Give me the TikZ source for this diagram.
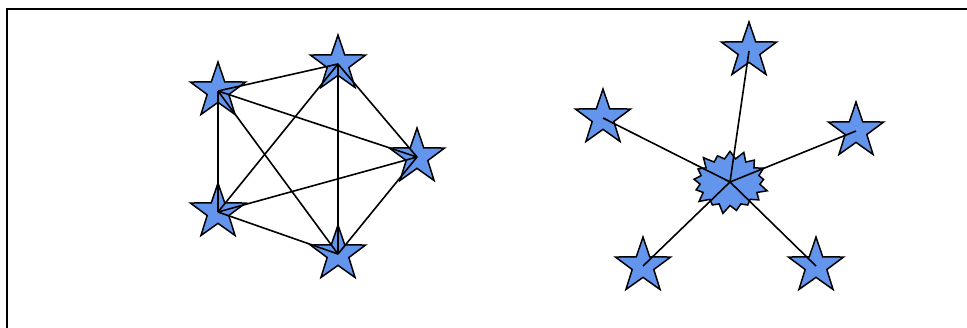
\documentclass[tikz,border=0pt]{standalone}
\usetikzlibrary{shapes.geometric,shapes.symbols}
\definecolor{starblue}{HTML}{6495ED}
\begin{document}
\begin{tikzpicture}[x=1pt,y=-1pt,
  starnode/.style={star,star points=5,star point ratio=2.55,minimum size=58pt,inner sep=0pt,
    draw=black,line width=1.5pt,fill=starblue},
  burst/.style={starburst,starburst points=17,starburst point height=10pt,random starburst=100,
    minimum width=80pt,minimum height=67pt,inner sep=0pt,draw=black,line width=1.5pt,fill=starblue},
  edge/.style={draw=black,line width=1.6pt}]
\useasboundingbox (0,0) rectangle (967,327);
\draw[line width=2pt] (7,9.3) rectangle (990,345);
% left graph
\node[starnode] (A) at (218,91) {};
\node[starnode] (B) at (338,64) {};
\node[starnode] (C) at (417,157) {};
\node[starnode] (D) at (218,212) {};
\node[starnode] (E) at (338,254) {};
\draw[edge] (A.center) -- (B.center);
\draw[edge] (A.center) -- (C.center);
\draw[edge] (A.center) -- (D.center);
\draw[edge] (A.center) -- (E.center);
\draw[edge] (B.center) -- (C.center);
\draw[edge] (B.center) -- (D.center);
\draw[edge] (B.center) -- (E.center);
\draw[edge] (C.center) -- (D.center);
\draw[edge] (C.center) -- (E.center);
\draw[edge] (D.center) -- (E.center);
% right graph
\node[burst] (H) at (730,182) {};
\node[starnode] (T) at (749,51) {};
\node[starnode] (L) at (603,118) {};
\node[starnode] (R) at (856,131) {};
\node[starnode] (BL) at (643,266) {};
\node[starnode] (BR) at (816,266) {};
\draw[edge] (H.center) -- (T.center);
\draw[edge] (H.center) -- (L.center);
\draw[edge] (H.center) -- (R.center);
\draw[edge] (H.center) -- (BL.center);
\draw[edge] (H.center) -- (BR.center);
\end{tikzpicture}
\end{document}
